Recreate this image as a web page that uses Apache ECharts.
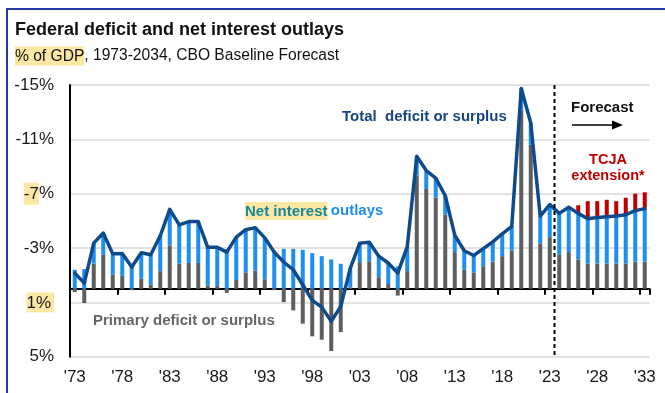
<!DOCTYPE html>
<html><head><meta charset="utf-8">
<script src="https://cdn.jsdelivr.net/npm/echarts@6/dist/echarts.min.js"></script>
<style>html,body{margin:0;padding:0;background:#fff}#c{width:665px;height:393px}</style>
</head><body><div id="c"></div>
<script>
// ---- data (% of GDP; negative = deficit, plotted upward) ----
const years = [1973,1974,1975,1976,1977,1978,1979,1980,1981,1982,
  1983,1984,1985,1986,1987,1988,1989,1990,1991,1992,
  1993,1994,1995,1996,1997,1998,1999,2000,2001,2002,
  2003,2004,2005,2006,2007,2008,2009,2010,2011,2012,
  2013,2014,2015,2016,2017,2018,2019,2020,2021,2022,
  2023,2024,2025,2026,2027,2028,2029,2030,2031,2032,2033];
const totalDeficit = [-1.15,-0.42,-3.36,-4.1,-2.57,-2.6,-1.6,-2.65,-2.5,-3.9,
  -5.85,-4.7,-4.95,-4.95,-3.05,-3.05,-2.7,-3.8,-4.35,-4.5,
  -3.75,-2.7,-1.96,-1.4,-0.3,0.85,1.35,2.4,1.3,-1.5,
  -3.36,-3.43,-2.4,-1.9,-1.15,-3.1,-9.75,-8.7,-8.15,-6.85,
  -3.95,-2.8,-2.45,-2.95,-3.45,-4.05,-4.6,-14.75,-12.2,-5.35,
  -6.2,-5.55,-6.0,-5.55,-5.15,-5.25,-5.3,-5.35,-5.45,-5.75,-5.9];
const primaryDeficit = [0.25,1.05,-1.84,-2.5,-1.05,-0.95,0.1,-0.75,-0.3,-1.3,
  -3.2,-1.85,-1.9,-1.9,-0.25,-0.2,0.3,-0.65,-1.2,-1.35,
  -0.7,0.1,0.98,1.59,2.57,3.5,3.75,4.58,3.19,-0.1,
  -1.96,-2.03,-0.85,-0.35,0.5,-1.3,-8.35,-7.35,-6.7,-5.45,
  -2.7,-1.4,-1.2,-1.6,-2.0,-2.4,-2.8,-13.1,-10.6,-3.35,
  -3.8,-2.5,-2.7,-2.15,-1.85,-1.85,-1.85,-1.85,-1.85,-2.0,-2.0];
const netInterest = [-1.4,-1.45,-1.52,-1.6,-1.52,-1.65,-1.7,-1.9,-2.2,-2.6,
  -2.65,-2.85,-3.05,-3.05,-2.8,-2.85,-2.9,-3.15,-3.15,-3.15,
  -3.05,-2.8,-2.94,-2.94,-2.87,-2.62,-2.4,-2.16,-1.84,-1.4,
  -1.4,-1.4,-1.55,-1.55,-1.65,-1.8,-1.4,-1.35,-1.45,-1.4,
  -1.25,-1.4,-1.25,-1.35,-1.45,-1.65,-1.8,-1.65,-1.6,-2.0,
  -2.4,-3.05,-3.3,-3.4,-3.3,-3.4,-3.45,-3.5,-3.6,-3.75,-3.9];
const tcjaYears = [2026,2027,2028,2029,2030,2031,2032,2033];
const tcjaExtension = [-0.6,-1.3,-1.2,-1.25,-1.1,-1.25,-1.25,-1.2];
const forecastStartYear = 2024;
const yTicks = {min: -15, max: 5, interval: 4};

// ---- build ----
const tcjaData = years.map(y => { const k = tcjaYears.indexOf(y); return k < 0 ? null : tcjaExtension[k]; });
const fIdx = years.indexOf(forecastStartYear);
const FONT = 'Arial, "Liberation Sans", sans-serif';
const HL = '#FCE8A4';

const chart = echarts.init(document.getElementById('c'), null, {renderer: 'canvas'});
chart.setOption({
  animation: false,
  backgroundColor: '#fff',
  textStyle: {fontFamily: FONT},
  grid: {left: 70, top: 85, width: 579.5, height: 271.7, outerBoundsMode: 'none', containLabel: false},
  xAxis: [{
    type: 'category', data: years, boundaryGap: true, position: 'bottom',
    axisLine: {show: true, onZero: true, lineStyle: {color: '#000', width: 2}},
    axisTick: {show: true, interval: 4, length: 6, lineStyle: {color: '#000', width: 2}},
    axisLabel: {show: false},
    splitLine: {show: false}
  }, {
    type: 'value', min: 0, max: years.length, show: false, position: 'top'
  }, {
    type: 'category', data: years, boundaryGap: true, position: 'bottom',
    axisLine: {show: false, onZero: false},
    axisTick: {show: false},
    splitLine: {show: false},
    axisLabel: {show: true, interval: 4, margin: 12, fontSize: 17, color: '#1a1a1a', fontFamily: FONT,
      formatter: v => "'" + String(v).slice(2)}
  }],
  yAxis: {
    type: 'value', inverse: true, min: yTicks.min, max: yTicks.max, interval: yTicks.interval,
    axisLine: {show: true, onZero: false, lineStyle: {color: '#000', width: 2}},
    axisTick: {show: false},
    splitLine: {show: true, lineStyle: {color: '#d9d9d9', width: 1.5}},
    axisLabel: {fontSize: 17, color: '#1a1a1a', margin: 16, fontFamily: FONT,
      formatter: v => v === -7 ? '{hl|-7}%' : (v === 1 ? '{hl2|1%}' : v + '%'),
      rich: {hl: {backgroundColor: HL, fontSize: 17, color: '#1a1a1a', padding: [3, 0, 2, 0]},
             hl2: {backgroundColor: HL, fontSize: 17, color: '#1a1a1a', padding: [2, 3, 1, 0]}}}
  },
  series: [
    {name: 'Primary', type: 'bar', stack: 'd', data: primaryDeficit, barWidth: 4,
      itemStyle: {color: '#5e5e5e'}, z: 2},
    {name: 'Net interest', type: 'bar', stack: 'd', data: netInterest, barWidth: 4,
      itemStyle: {color: '#1f8ef1'}, z: 2},
    {name: 'TCJA', type: 'bar', stack: 'd', data: tcjaData, barWidth: 4,
      itemStyle: {color: '#c00000'}, z: 2},
    {name: 'Total', type: 'line', data: totalDeficit, showSymbol: false, symbol: 'none',
      lineStyle: {color: '#0f4a8a', width: 3.5, join: 'round', cap: 'round'}, z: 5},
    {name: 'Forecast', type: 'line', xAxisIndex: 1, symbol: 'none', silent: true,
      data: [[fIdx, yTicks.min], [fIdx, yTicks.max]],
      lineStyle: {color: '#000', width: 2, type: [4, 3]}, z: 6}
  ],
  graphic: [
    {type: 'rect', shape: {x: 7, y: 9, width: 800, height: 600}, style: {fill: 'none', stroke: '#2438a8', lineWidth: 2}, silent: true},
    {type: 'text', x: 15, y: 30, style: {text: 'Federal deficit and net interest outlays', font: 'bold 18px ' + FONT, fill: '#111', verticalAlign: 'middle'}},
    {type: 'text', x: 15, y: 56, style: {text: '{hl|% of GDP}, 1973-2034, CBO Baseline Forecast', font: '15.6px ' + FONT, fill: '#111', verticalAlign: 'middle',
      rich: {hl: {backgroundColor: HL, font: '15.6px ' + FONT, fill: '#111', padding: [2, 0, 1, 0]}}}},
    {type: 'text', x: 342, y: 116.5, style: {text: 'Total  deficit or surplus', font: 'bold 15px ' + FONT, fill: '#17467f', verticalAlign: 'middle'}},
    {type: 'text', x: 245, y: 211, style: {text: '{a|Net interest} {b|outlays}', verticalAlign: 'middle',
      rich: {a: {font: 'bold 15px ' + FONT, fill: '#17879a', backgroundColor: HL, padding: [2, 0, 1, 0]},
             b: {font: 'bold 15px ' + FONT, fill: '#1f8ef1'}}}},
    {type: 'text', x: 93, y: 321, style: {text: 'Primary deficit or surplus', font: 'bold 15px ' + FONT, fill: '#666', verticalAlign: 'middle'}},
    {type: 'text', x: 571, y: 107.5, style: {text: 'Forecast', font: 'bold 15px ' + FONT, fill: '#111', verticalAlign: 'middle'}},
    {type: 'line', shape: {x1: 572, y1: 125, x2: 614, y2: 125}, style: {stroke: '#000', lineWidth: 1.5}},
    {type: 'polygon', shape: {points: [[612, 120.5], [623, 125], [612, 129.5]]}, style: {fill: '#000'}},
    {type: 'text', x: 608, y: 168, style: {text: 'TCJA\nextension*', font: 'bold 14.5px ' + FONT, fill: '#c00000', align: 'center', verticalAlign: 'middle', lineHeight: 15.5}}
  ]
});
</script></body></html>
